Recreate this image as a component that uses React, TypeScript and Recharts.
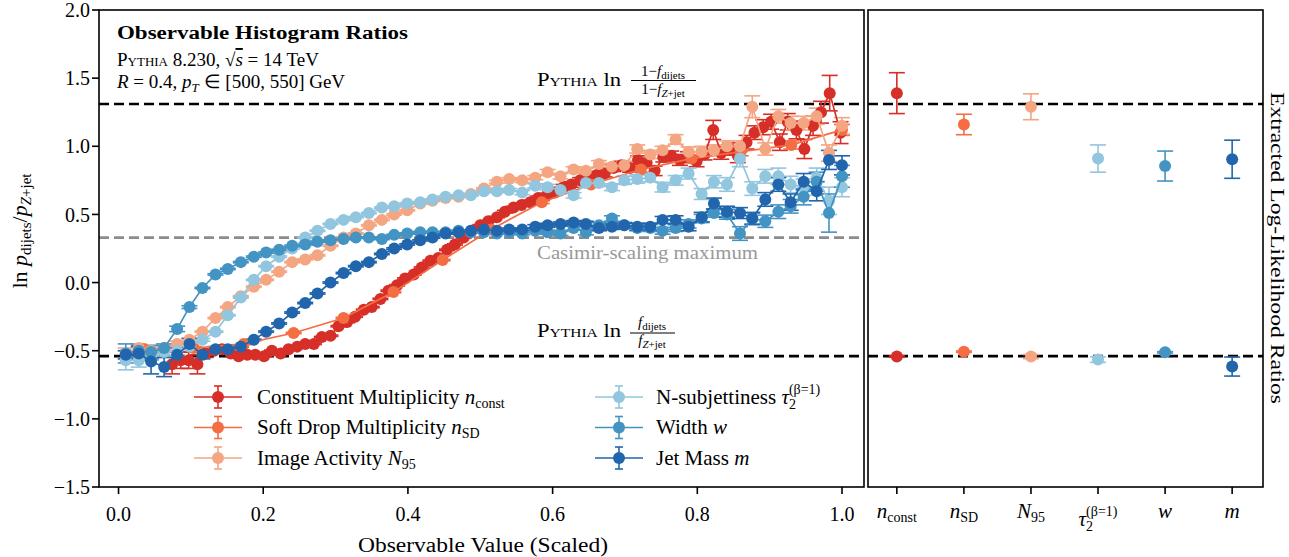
import React from 'react';
import { ScatterChart, Scatter, XAxis, YAxis, ErrorBar, ReferenceLine } from 'recharts';

const FONT = '"Liberation Serif", "Times New Roman", serif';

// ---------- data ----------
const binX = [0.010,0.028,0.045,0.063,0.081,0.098,0.116,0.134,0.151,0.169,
  0.187,0.204,0.222,0.240,0.258,0.275,0.293,0.311,0.328,0.346,
  0.364,0.381,0.399,0.417,0.434,0.452,0.470,0.487,0.505,0.523,
  0.540,0.558,0.576,0.593,0.611,0.629,0.646,0.664,0.682,0.699,
  0.717,0.735,0.752,0.770,0.788,0.806,0.823,0.841,0.859,0.876,
  0.894,0.912,0.929,0.947,0.965,0.982,1.000];

const tauY = [-0.57,-0.57,-0.53,-0.51,-0.50,-0.47,-0.42,-0.36,-0.24,-0.11,
  0.02,0.12,0.19,0.25,0.33,0.38,0.43,0.46,0.48,0.51,
  0.55,0.56,0.58,0.59,0.61,0.63,0.64,0.64,0.67,0.67,
  0.68,0.66,0.71,0.70,0.68,0.64,0.73,0.73,0.70,0.75,
  0.76,0.77,0.70,0.75,0.80,0.65,0.74,0.72,0.91,0.69,
  0.78,0.78,0.72,0.70,0.77,0.60,0.70];
const tauErr = [0.07,0.05,0.04,0.03,0.03,0.02,0.01,0.005,0.005,0.005,
  0.005,0.005,0.005,0.005,0.005,0.005,0.005,0.005,0.005,0.005,
  0.005,0.005,0.005,0.005,0.005,0.005,0.005,0.005,0.005,0.01,
  0.01,0.015,0.015,0.02,0.02,0.02,0.025,0.025,0.025,0.03,
  0.03,0.03,0.035,0.035,0.04,0.04,0.045,0.05,0.06,0.05,
  0.05,0.06,0.06,0.06,0.07,0.1,0.07];

const wY = [-0.52,-0.50,-0.51,-0.48,-0.34,-0.18,-0.04,0.06,0.10,0.15,
  0.19,0.22,0.24,0.27,0.28,0.30,0.31,0.32,0.33,0.33,
  0.32,0.35,0.36,0.37,0.37,0.37,0.38,0.37,0.37,0.36,
  0.37,0.36,0.38,0.37,0.36,0.40,0.37,0.42,0.47,0.42,
  0.40,0.40,0.38,0.40,0.43,0.47,0.51,0.50,0.36,0.47,
  0.45,0.52,0.56,0.63,0.74,0.51,0.78];
const wErr = [0.07,0.04,0.05,0.03,0.02,0.01,0.005,0.005,0.005,0.005,
  0.005,0.005,0.005,0.005,0.005,0.005,0.005,0.005,0.005,0.005,
  0.005,0.005,0.005,0.005,0.005,0.005,0.005,0.005,0.005,0.005,
  0.01,0.01,0.015,0.015,0.015,0.015,0.02,0.02,0.02,0.02,
  0.02,0.025,0.025,0.025,0.03,0.03,0.03,0.035,0.05,0.04,
  0.045,0.05,0.05,0.06,0.07,0.14,0.08];

const mY = [-0.53,-0.52,-0.58,-0.62,-0.53,-0.45,-0.53,-0.49,-0.49,-0.47,
  -0.42,-0.36,-0.30,-0.22,-0.15,-0.08,0.00,0.07,0.12,0.15,
  0.21,0.25,0.28,0.31,0.33,0.36,0.37,0.38,0.39,0.38,
  0.39,0.39,0.41,0.42,0.43,0.44,0.43,0.40,0.41,0.42,
  0.41,0.41,0.46,0.46,0.41,0.48,0.58,0.52,0.51,0.47,
  0.61,0.72,0.59,0.74,0.67,0.90,0.86];
const mErr = [0.03,0.05,0.09,0.07,0.05,0.04,0.03,0.02,0.01,0.005,
  0.005,0.005,0.005,0.005,0.005,0.005,0.005,0.005,0.005,0.005,
  0.005,0.005,0.005,0.005,0.005,0.005,0.005,0.005,0.005,0.005,
  0.01,0.01,0.015,0.015,0.015,0.015,0.02,0.02,0.02,0.02,
  0.025,0.025,0.025,0.03,0.03,0.035,0.04,0.04,0.04,0.045,
  0.05,0.05,0.06,0.06,0.07,0.07,0.07];

const n95Y = [-0.52,-0.48,-0.50,-0.48,-0.45,-0.42,-0.36,-0.26,-0.18,-0.10,
  -0.03,0.02,0.08,0.15,0.17,0.20,0.27,0.33,0.36,0.42,
  0.46,0.50,0.53,0.58,0.60,0.62,0.63,0.65,0.69,0.74,
  0.76,0.75,0.77,0.81,0.78,0.83,0.82,0.87,0.85,0.86,
  0.98,0.94,0.97,1.05,0.96,0.96,0.97,1.00,1.00,1.29,
  0.98,1.22,1.17,1.17,1.22,0.95,1.15];
const n95Err = [0.04,0.03,0.03,0.02,0.02,0.01,0.005,0.005,0.005,0.005,
  0.005,0.005,0.005,0.005,0.005,0.005,0.005,0.005,0.005,0.005,
  0.005,0.005,0.005,0.005,0.005,0.005,0.005,0.005,0.005,0.01,
  0.01,0.015,0.015,0.02,0.02,0.02,0.02,0.025,0.025,0.03,
  0.03,0.03,0.03,0.035,0.035,0.04,0.04,0.04,0.04,0.08,
  0.045,0.05,0.05,0.05,0.06,0.06,0.06];

const nConstX = [0.074,0.086,0.097,0.109,0.120,0.132,0.143,0.155,0.166,0.178,
  0.189,0.201,0.212,0.224,0.235,0.247,0.258,0.270,0.281,0.293,
  0.304,0.316,0.327,0.339,0.350,0.362,0.373,0.385,0.396,0.408,
  0.419,0.431,0.442,0.454,0.465,0.477,0.488,0.500,0.511,0.523,
  0.534,0.546,0.557,0.569,0.580,0.592,0.603,0.615,0.626,0.638,
  0.649,0.661,0.672,0.684,0.695,0.707,0.718,0.730,0.741,0.753,
  0.764,0.776,0.787,0.799,0.810,0.822,0.833,0.845,0.856,0.868,
  0.879,0.891,0.902,0.914,0.925,0.937,0.948,0.960,0.971,0.983,0.998];
const nConstY = [-0.60,-0.57,-0.57,-0.60,-0.52,-0.50,-0.49,-0.52,-0.54,-0.53,
  -0.53,-0.54,-0.50,-0.52,-0.49,-0.47,-0.45,-0.45,-0.40,-0.39,
  -0.32,-0.29,-0.25,-0.20,-0.18,-0.12,-0.06,-0.02,0.03,0.06,
  0.11,0.16,0.18,0.24,0.28,0.33,0.38,0.42,0.45,0.48,
  0.52,0.55,0.57,0.59,0.62,0.64,0.66,0.70,0.72,0.75,
  0.76,0.79,0.80,0.84,0.86,0.84,0.90,0.88,0.82,0.92,
  0.93,0.90,0.92,0.89,0.94,1.12,0.95,0.98,0.93,1.03,
  1.10,1.14,1.18,1.03,1.18,1.12,0.98,1.15,1.25,1.39,1.10];
const nConstErr = [0.07,0.06,0.06,0.07,0.03,0.01,0.005,0.005,0.005,0.005,
  0.005,0.005,0.005,0.005,0.005,0.005,0.005,0.005,0.005,0.005,
  0.005,0.005,0.005,0.005,0.005,0.005,0.005,0.005,0.005,0.005,
  0.005,0.005,0.005,0.005,0.005,0.005,0.005,0.005,0.005,0.005,
  0.01,0.01,0.01,0.015,0.015,0.015,0.02,0.02,0.02,0.02,
  0.02,0.025,0.025,0.025,0.03,0.03,0.03,0.03,0.035,0.035,
  0.035,0.04,0.04,0.04,0.04,0.07,0.045,0.045,0.05,0.05,
  0.05,0.055,0.055,0.06,0.06,0.065,0.07,0.07,0.08,0.13,0.08];

const nSdX = [0.035,0.104,0.173,0.242,0.311,0.380,0.448,0.515,0.585,0.653,0.722,0.792,0.860,0.930,1.000];
const nSdY = [-0.49,-0.48,-0.45,-0.37,-0.26,-0.07,0.165,0.39,0.59,0.72,0.83,0.91,0.96,1.01,1.12];
const nSdErr = [0.02,0.01,0.005,0.005,0.005,0.005,0.005,0.005,0.01,0.015,0.02,0.025,0.03,0.03,0.04];

const xTicksLeft = [0, 0.2, 0.4, 0.6, 0.8, 1.0];
const yTicks = [-1.5, -1.0, -0.5, 0.0, 0.5, 1.0, 1.5, 2.0];
const pythiaUpper = 1.31;
const pythiaLower = -0.54;
const casimirMax = 0.33;

const catIdx = [0, 1, 2, 3, 4, 5];
const extractedUpper = [1.39, 1.16, 1.29, 0.91, 0.855, 0.905];
const extractedUpperErr = [0.15, 0.075, 0.095, 0.10, 0.11, 0.14];
const extractedLower = [-0.543, -0.507, -0.543, -0.565, -0.512, -0.616];
const extractedLowerErr = [0.005, 0.005, 0.015, 0.02, 0.005, 0.07];

const C_NCONST = '#d62f27';
const C_NSD = '#f46d43';
const C_N95 = '#f4a582';
const C_TAU = '#92c5de';
const C_W = '#4393c3';
const C_M = '#2166ac';
const catColors = [C_NCONST, C_NSD, C_N95, C_TAU, C_W, C_M];

// ---------- helpers ----------
const mk = (xs: number[], ys: number[], es: number[]) => xs.map((x, i) => ({ x, y: ys[i], e: es[i] }));

const series = [
  { key: 'nconst', color: C_NCONST, data: mk(nConstX, nConstY, nConstErr) },
  { key: 'nsd', color: C_NSD, data: mk(nSdX, nSdY, nSdErr) },
  { key: 'n95', color: C_N95, data: mk(binX, n95Y, n95Err) },
  { key: 'tau', color: C_TAU, data: mk(binX, tauY, tauErr) },
  { key: 'w', color: C_W, data: mk(binX, wY, wErr) },
  { key: 'm', color: C_M, data: mk(binX, mY, mErr) },
];

const R = 6;
const dot = (color: string) => (p: any) => <circle cx={p.cx} cy={p.cy} r={R} fill={color} />;
const fmtY = (v: number) => (v < 0 ? '\u2212' + Math.abs(v).toFixed(1) : v.toFixed(1));
const tickStyle = { fill: '#000', fontSize: 20, fontFamily: FONT };
const tickLineStyle = { stroke: '#000', strokeWidth: 1.6 };

function LeftPanel() {
  return (
    <ScatterChart width={870} height={557} margin={{ top: 10, right: 6, bottom: 40, left: 0 }}>
      <XAxis type="number" dataKey="x" domain={[-0.027, 1.0304]} allowDataOverflow ticks={xTicksLeft} interval={0}
        tickFormatter={(v: number) => v.toFixed(1)} height={30} axisLine={false}
        tickLine={tickLineStyle} tickSize={7} tickMargin={13} tick={tickStyle} />
      <YAxis type="number" dataKey="y" domain={[-1.5, 2]} allowDataOverflow ticks={yTicks} interval={0}
        tickFormatter={fmtY} width={99} axisLine={false} tickLine={tickLineStyle} tickSize={7} tickMargin={2} tick={tickStyle} />
      <ReferenceLine y={casimirMax} stroke="#8c8c8c" strokeWidth={2.6} strokeDasharray="10 5" />
      <ReferenceLine y={pythiaUpper} stroke="#000" strokeWidth={2.6} strokeDasharray="10 5" />
      <ReferenceLine y={pythiaLower} stroke="#000" strokeWidth={2.6} strokeDasharray="10 5" />
      {series.map((s) => (
        <Scatter key={s.key} data={s.data} fill={s.color} line={{ stroke: s.color, strokeWidth: 1.7 }}
          shape={dot(s.color)} isAnimationActive={false}>
          <ErrorBar dataKey="e" direction="y" width={8} stroke={s.color} strokeWidth={1.6} isAnimationActive={false} />
        </Scatter>
      ))}
    </ScatterChart>
  );
}

function RightTick(props: any) {
  const { x, y, payload } = props;
  const i = payload.value;
  const base = y + 22;
  const common: any = { fill: '#000', fontFamily: FONT, textAnchor: 'middle', fontSize: 21 };
  if (i === 0) return <text x={x} y={base} {...common}><tspan fontStyle="italic">n</tspan><tspan fontSize={14} dy={4}>const</tspan></text>;
  if (i === 1) return <text x={x} y={base} {...common}><tspan fontStyle="italic">n</tspan><tspan fontSize={14} dy={4}>SD</tspan></text>;
  if (i === 2) return <text x={x} y={base} {...common}><tspan fontStyle="italic">N</tspan><tspan fontSize={14} dy={4}>95</tspan></text>;
  if (i === 3) return <text x={x} y={base + 8} {...common}><tspan fontStyle="italic">τ</tspan><tspan fontSize={14} dy={5}>2</tspan><tspan fontSize={14} dx={-7} dy={-15}>(β=1)</tspan></text>;
  if (i === 4) return <text x={x} y={base} {...common}><tspan fontStyle="italic">w</tspan></text>;
  return <text x={x} y={base} {...common}><tspan fontStyle="italic">m</tspan></text>;
}

function RightPanel() {
  return (
    <ScatterChart width={395} height={557} margin={{ top: 10, right: 0, bottom: 40, left: 0 }} style={{ overflow: 'visible' }}>
      <XAxis type="number" dataKey="x" domain={[-0.43, 5.46]} allowDataOverflow ticks={catIdx} interval={0} height={30}
        axisLine={false} tickLine={tickLineStyle} tickSize={7} tick={(p: any) => <RightTick {...p} />} />
      <YAxis type="number" dataKey="y" domain={[-1.5, 2]} allowDataOverflow hide />
      <ReferenceLine y={pythiaUpper} stroke="#000" strokeWidth={2.6} strokeDasharray="10 5" />
      <ReferenceLine y={pythiaLower} stroke="#000" strokeWidth={2.6} strokeDasharray="10 5" />
      {catIdx.map((c) => (
        <Scatter key={c} data={[{ x: c, y: extractedUpper[c], e: extractedUpperErr[c] }, { x: c, y: extractedLower[c], e: extractedLowerErr[c] }]}
          fill={catColors[c]} shape={dot(catColors[c])} isAnimationActive={false}>
          <ErrorBar dataKey="e" direction="y" width={8} stroke={catColors[c]} strokeWidth={1.6} isAnimationActive={false} />
        </Scatter>
      ))}
    </ScatterChart>
  );
}

const legendItems = [
  { col: 0, row: 0, color: C_NCONST, label: <>Constituent Multiplicity <tspan fontStyle="italic">n</tspan><tspan fontSize={14} dy={4}>const</tspan></> },
  { col: 0, row: 1, color: C_NSD, label: <>Soft Drop Multiplicity <tspan fontStyle="italic">n</tspan><tspan fontSize={14} dy={4}>SD</tspan></> },
  { col: 0, row: 2, color: C_N95, label: <>Image Activity <tspan fontStyle="italic">N</tspan><tspan fontSize={14} dy={4}>95</tspan></> },
  { col: 1, row: 0, color: C_TAU, label: <>N-subjettiness <tspan fontStyle="italic">τ</tspan><tspan fontSize={14} dy={5}>2</tspan><tspan fontSize={14} dx={-7} dy={-15}>(β=1)</tspan></> },
  { col: 1, row: 1, color: C_W, label: <>Width <tspan fontStyle="italic">w</tspan></> },
  { col: 1, row: 2, color: C_M, label: <>Jet Mass <tspan fontStyle="italic">m</tspan></> },
];
const legendColX = [218, 619];
const legendTextX = [257, 656];
const legendRowY = [397, 427.5, 458];

function Overlay() {
  return (
    <svg width={1289} height={557} style={{ position: 'absolute', left: 0, top: 0, pointerEvents: 'none' }} fontFamily={FONT}>
      <rect x={99} y={10} width={765} height={477} fill="none" stroke="#000" strokeWidth={1.6} />
      <rect x={868} y={10} width={395} height={477} fill="none" stroke="#000" strokeWidth={1.6} />

      <text x={117} y={39} fontSize={18} fontWeight="bold" textLength={291} lengthAdjust="spacingAndGlyphs">Observable Histogram Ratios</text>
      <text x={117} y={66} fontSize={19}><tspan style={{ fontVariant: 'small-caps' }}>Pythia</tspan>{' 8.230, √'}<tspan fontStyle="italic" textDecoration="overline">s</tspan>{' = 14 TeV'}</text>
      <text x={117} y={88} fontSize={19}><tspan fontStyle="italic">R</tspan>{' = 0.4, '}<tspan fontStyle="italic">p</tspan><tspan fontStyle="italic" fontSize={13} dy={4}>T</tspan><tspan dy={-4}>{' ∈ [500, 550] GeV'}</tspan></text>

      <text x={537} y={86} fontSize={19} textLength={84} lengthAdjust="spacingAndGlyphs"><tspan style={{ fontVariant: 'small-caps' }}>Pythia</tspan>{' ln'}</text>
      <text x={663} y={76} fontSize={15} textAnchor="middle">{'1−'}<tspan fontStyle="italic">f</tspan><tspan fontSize={11} dy={3}>dijets</tspan></text>
      <line x1={631} x2={696} y1={80.5} y2={80.5} stroke="#000" strokeWidth={1} />
      <text x={663} y={94} fontSize={15} textAnchor="middle">{'1−'}<tspan fontStyle="italic">f</tspan><tspan fontSize={11} dy={3} fontStyle="italic">Z</tspan><tspan fontSize={11}>+jet</tspan></text>

      <text x={537} y={259} fontSize={19} fill="#999" textLength={221} lengthAdjust="spacingAndGlyphs">Casimir-scaling maximum</text>

      <text x={537} y={337} fontSize={19} textLength={84} lengthAdjust="spacingAndGlyphs"><tspan style={{ fontVariant: 'small-caps' }}>Pythia</tspan>{' ln'}</text>
      <text x={652} y={327} fontSize={15} textAnchor="middle"><tspan fontStyle="italic">f</tspan><tspan fontSize={11} dy={3}>dijets</tspan></text>
      <line x1={630} x2={675} y1={333} y2={333} stroke="#000" strokeWidth={1} />
      <text x={652} y={345} fontSize={15} textAnchor="middle"><tspan fontStyle="italic">f</tspan><tspan fontSize={11} dy={3} fontStyle="italic">Z</tspan><tspan fontSize={11}>+jet</tspan></text>

      {legendItems.map((it, k) => {
        const cx = legendColX[it.col];
        const cy = legendRowY[it.row];
        return (
          <g key={k}>
            <line x1={cx - 24} x2={cx + 24} y1={cy} y2={cy} stroke={it.color} strokeWidth={1.7} />
            <line x1={cx} x2={cx} y1={cy - 11} y2={cy + 11} stroke={it.color} strokeWidth={1.6} />
            <line x1={cx - 4} x2={cx + 4} y1={cy - 11} y2={cy - 11} stroke={it.color} strokeWidth={1.6} />
            <line x1={cx - 4} x2={cx + 4} y1={cy + 11} y2={cy + 11} stroke={it.color} strokeWidth={1.6} />
            <circle cx={cx} cy={cy} r={R} fill={it.color} />
            <text x={legendTextX[it.col]} y={cy + 6.5} fontSize={21}>{it.label}</text>
          </g>
        );
      })}

      <text x={483} y={552} fontSize={20} textAnchor="middle" textLength={250} lengthAdjust="spacingAndGlyphs">Observable Value (Scaled)</text>
      <text transform="translate(27,231) rotate(-90)" fontSize={22} textAnchor="middle">{'ln '}<tspan fontStyle="italic">p</tspan><tspan fontSize={15} dy={4}>dijets</tspan><tspan dy={-4}>/</tspan><tspan fontStyle="italic">p</tspan><tspan fontSize={15} dy={4} fontStyle="italic">Z</tspan><tspan fontSize={15}>+jet</tspan></text>
      <text transform="translate(1271,248) rotate(90)" fontSize={19} textAnchor="middle" textLength={312} lengthAdjust="spacingAndGlyphs">Extracted Log-Likelihood Ratios</text>
    </svg>
  );
}

export default function App() {
  return (
    <div style={{ position: 'absolute', left: 0, top: 0, width: 1289, height: 557, background: '#fff', overflow: 'hidden' }}>
      <div style={{ position: 'absolute', left: 0, top: 0 }}><LeftPanel /></div>
      <div style={{ position: 'absolute', left: 868, top: 0 }}><RightPanel /></div>
      <Overlay />
    </div>
  );
}
